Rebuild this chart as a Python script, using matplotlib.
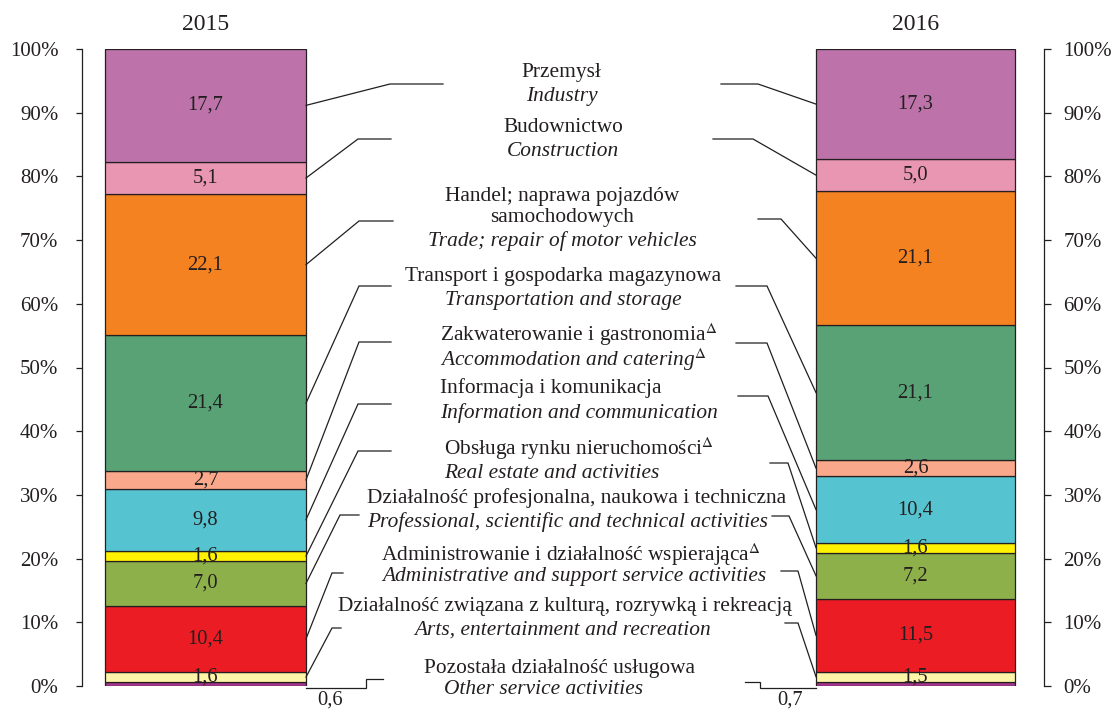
import numpy as np
import matplotlib
matplotlib.use('Agg')
import matplotlib.pyplot as plt

plt.rcParams['font.family'] = ['Liberation Serif', 'DejaVu Serif']
plt.rcParams['mathtext.fontset'] = 'stix'

# sectors, bottom to top of the stacked bars
sectors_pl = ['Pozostała działalność usługowa',
              'Działalność związana z kulturą, rozrywką i rekreacją',
              'Administrowanie i działalność wspierająca$^{\\Delta}$',
              'Działalność profesjonalna, naukowa i techniczna',
              'Obsługa rynku nieruchomości$^{\\Delta}$',
              'Informacja i komunikacja',
              'Zakwaterowanie i gastronomia$^{\\Delta}$',
              'Transport i gospodarka magazynowa',
              'Handel; naprawa pojazdów\nsamochodowych',
              'Budownictwo',
              'Przemysł']
sectors_en = ['Other service activities',
              'Arts, entertainment and recreation',
              'Administrative and support service activities',
              'Professional, scientific and technical activities',
              'Real estate and activities',
              'Information and communication',
              'Accommodation and catering$^{\\Delta}$',
              'Transportation and storage',
              'Trade; repair of motor vehicles',
              'Construction',
              'Industry']
v2015 = [0.6, 1.6, 10.4, 7.0, 1.6, 9.8, 2.7, 21.4, 22.1, 5.1, 17.7]
v2016 = [0.7, 1.5, 11.5, 7.2, 1.6, 10.4, 2.6, 21.1, 21.1, 5.0, 17.3]
years = ['2015', '2016']

colors = ['#a6358e', '#fff5a8', '#ec1c24', '#8eb04a', '#fff200', '#56c4d0',
          '#f9a88b', '#58a275', '#f58220', '#e996b2', '#bd73a9']
ink = '#231f20'
fs = 15.4

W, H = 1111, 711
fig = plt.figure(figsize=(W / 100, H / 100), dpi=100)
y0, y100 = 686, 49          # pixel rows of 0% and 100%
xl, xr = 82, 1044           # pixel columns of the two axis lines
ax = fig.add_axes([xl / W, (H - y0) / H, (xr - xl) / W, (y0 - y100) / H])
ax.set_xlim(xl, xr)
ax.set_ylim(0, 100)


def py(p):
    # pixel row -> percent
    return (y0 - p) / (y0 - y100) * 100


bar_x = [205.5, 915.5]
bar_w = [201, 199]
for i, vals in enumerate([v2015, v2016]):
    vals = np.array(vals)
    bottoms = np.concatenate([[0], np.cumsum(vals)[:-1]])
    ax.bar(bar_x[i], vals, width=bar_w[i], bottom=bottoms, color=colors,
           edgecolor=ink, linewidth=0.9)
    for v, b in zip(vals[1:], bottoms[1:]):
        ax.text(bar_x[i], b + v / 2, f'{v:.1f}'.replace('.', ','), ha='center',
                va='center', fontsize=14.8, color=ink)
    ax.text(bar_x[i], py(25), years[i], ha='center', va='center',
            fontsize=17, color=ink, clip_on=False)

# small first segment value below the bars
ax.text(330, py(700), f'{v2015[0]:.1f}'.replace('.', ','), ha='center',
        va='center', fontsize=14.8, color=ink, clip_on=False)
ax.text(790, py(700), f'{v2016[0]:.1f}'.replace('.', ','), ha='center',
        va='center', fontsize=14.8, color=ink, clip_on=False)

# label positions (pixels): polish line, english line
pl_pos = [(560, 668, 'center'), (565, 606, 'center'), (381, 555, 'left'),
          (577, 498, 'center'), (444, 449, 'left'), (440, 388, 'left'),
          (440, 335, 'left'), (563, 277, 'center'), (562, 207, 'center'),
          (563, 128, 'center'), (561, 72, 'center')]
en_pos = [(544, 690, 'center'), (563, 630, 'center'), (382, 577, 'left'),
          (568, 522, 'center'), (444, 473, 'left'), (440, 413, 'left'),
          (440, 360, 'left'), (563, 301, 'center'), (562, 241, 'center'),
          (563, 151, 'center'), (562, 96, 'center')]
for name, (x, y, ha) in zip(sectors_pl, pl_pos):
    ax.text(x, py(y), name, ha=ha, va='center', fontsize=fs, color=ink,
            linespacing=1.2, clip_on=False)
for name, (x, y, ha) in zip(sectors_en, en_pos):
    ax.text(x, py(y), name, ha=ha, va='center', fontsize=fs, color=ink,
            style='italic', clip_on=False)

# leader lines (pixel elbows, then to the bar)
left_elbow = [[(383, 679), (366, 679), (366, 688)],
              [(341, 628), (332, 628)], [(343, 573), (332, 573)],
              [(359, 515), (340, 515)], [(391, 451), (358, 451)],
              [(391, 404), (358, 404)], [(391, 342), (359, 342)],
              [(391, 286), (359, 286)], [(393, 221), (359, 221)],
              [(391, 139), (358, 139)], [(443, 84), (390, 84)]]
right_elbow = [[(745, 682), (760, 682), (760, 688)],
               [(785, 623), (798, 623)], [(781, 571), (798, 571)],
               [(772, 516), (789, 516)], [(770, 463), (788, 463)],
               [(738, 396), (768, 396)], [(736, 343), (767, 343)],
               [(736, 286), (767, 286)], [(758, 219), (781, 219)],
               [(713, 139), (753, 139)], [(721, 84), (758, 84)]]
edges = [bar_x[0] + bar_w[0] / 2, bar_x[1] - bar_w[1] / 2]
for side, (elbows, vals) in enumerate([(left_elbow, v2015), (right_elbow, v2016)]):
    cum = np.cumsum(vals)
    for k, pts in enumerate(elbows):
        xs = [p[0] for p in pts]
        ys = [py(p[1]) for p in pts]
        if k == 0:
            xs.append(edges[side])
            ys.append(ys[-1])
        else:
            xs.append(edges[side])
            ys.append(cum[k] - vals[k] / 2)
        ax.plot(xs, ys, color=ink, lw=0.9, clip_on=False, solid_joinstyle='miter')

# axes
ticks = np.arange(0, 101, 10)
ticklabels = [f'{t}%' for t in ticks]
ax.set_xticks([])
ax.set_yticks(ticks)
ax.set_yticklabels(ticklabels)
ax.tick_params(axis='y', direction='out', length=4, width=0.9, colors=ink,
               labelsize=15, pad=13)
for s in ['top', 'bottom', 'right']:
    ax.spines[s].set_visible(False)
ax.spines['left'].set_color(ink)
ax.spines['left'].set_linewidth(0.9)

ax2 = ax.twinx()
ax2.set_ylim(0, 100)
ax2.set_yticks(ticks)
ax2.set_yticklabels(ticklabels)
ax2.tick_params(axis='y', direction='out', length=5, width=0.9, colors=ink,
                labelsize=15, pad=9)
for s in ['top', 'bottom', 'left']:
    ax2.spines[s].set_visible(False)
ax2.spines['right'].set_color(ink)
ax2.spines['right'].set_linewidth(0.9)

fig.savefig('out.png', dpi=100)
